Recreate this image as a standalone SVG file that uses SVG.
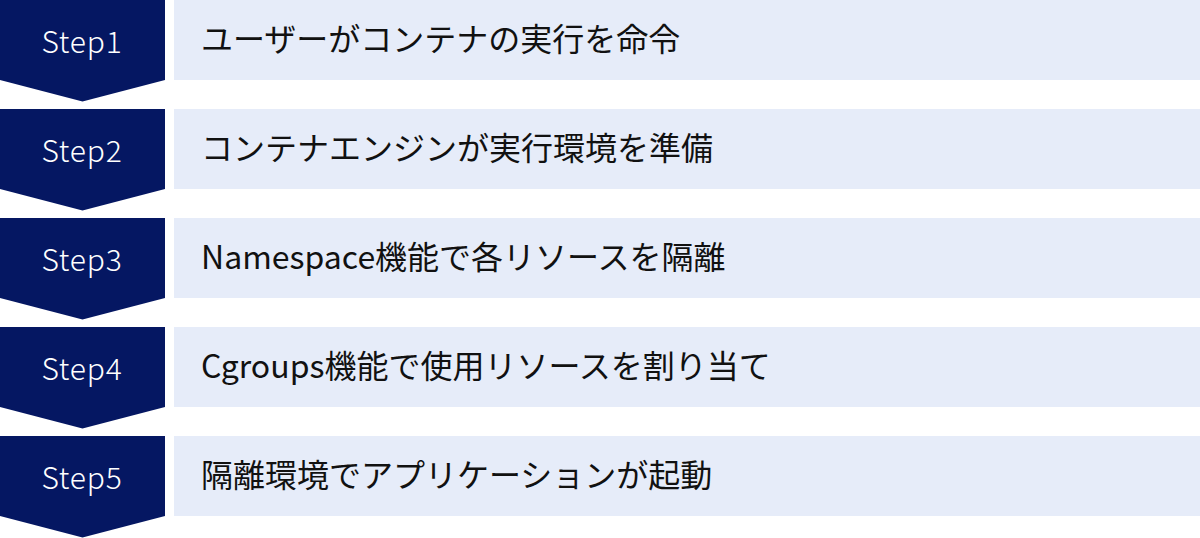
<svg xmlns="http://www.w3.org/2000/svg" width="1200" height="538" viewBox="0 0 1200 538">
<style>
.chev{fill:#051762}
.box{fill:#E6ECF9}
.step{font-family:"Noto Sans CJK JP","Noto Sans",sans-serif;font-size:30px;font-weight:300;fill:#ffffff;text-anchor:middle;letter-spacing:0.8px}
.lbl{font-family:"Noto Sans CJK JP","Noto Sans",sans-serif;font-size:32px;fill:#111111}
</style>
<defs>
<path id="chevShape" d="M0,0 H165 V80 L82.5,101.5 L0,80 Z"/>
</defs>
<rect width="1200" height="538" fill="#ffffff"/>
<g id="connectors"></g>
<g id="step1" transform="translate(0,0)">
<use href="#chevShape" class="chev"/>
<rect class="box" x="174" y="0" width="1026" height="80"/>
<text class="step" x="82" y="52.5">Step1</text>
<text class="lbl" x="201" y="50.5">ユーザーがコンテナの実行を命令</text>
</g>
<g id="step2" transform="translate(0,109)">
<use href="#chevShape" class="chev"/>
<rect class="box" x="174" y="0" width="1026" height="80"/>
<text class="step" x="82" y="52.5">Step2</text>
<text class="lbl" x="201" y="50.5">コンテナエンジンが実行環境を準備</text>
</g>
<g id="step3" transform="translate(0,218)">
<use href="#chevShape" class="chev"/>
<rect class="box" x="174" y="0" width="1026" height="80"/>
<text class="step" x="82" y="52.5">Step3</text>
<text class="lbl" x="201" y="50.5">Namespace機能で各リソースを隔離</text>
</g>
<g id="step4" transform="translate(0,327)">
<use href="#chevShape" class="chev"/>
<rect class="box" x="174" y="0" width="1026" height="80"/>
<text class="step" x="82" y="52.5">Step4</text>
<text class="lbl" x="201" y="50.5">Cgroups機能で使用リソースを割り当て</text>
</g>
<g id="step5" transform="translate(0,436)">
<use href="#chevShape" class="chev"/>
<rect class="box" x="174" y="0" width="1026" height="80"/>
<text class="step" x="82" y="52.5">Step5</text>
<text class="lbl" x="201" y="50.5">隔離環境でアプリケーションが起動</text>
</g>
</svg>
